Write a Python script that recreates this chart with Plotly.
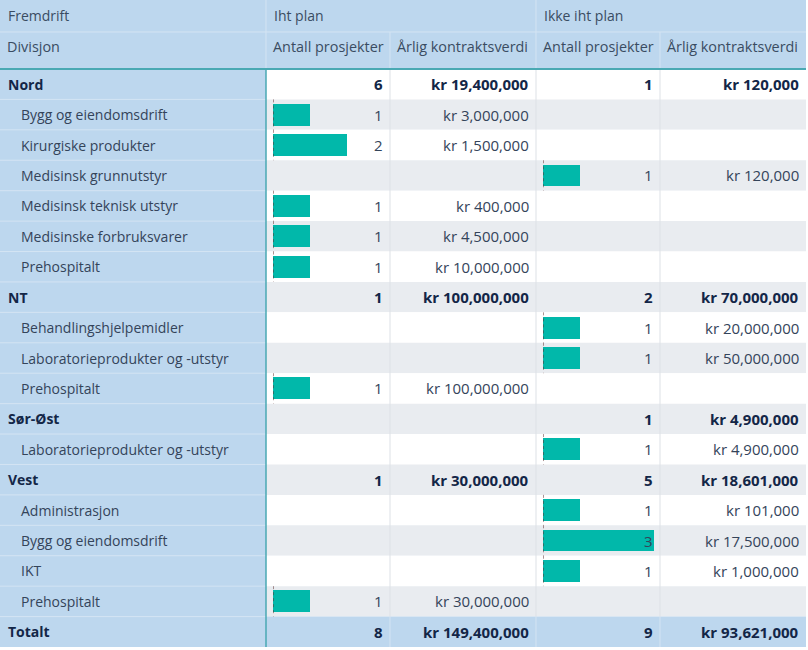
import plotly.graph_objects as go

# ---------------- data ----------------
row_labels = ["Nord", "Bygg og eiendomsdrift", "Kirurgiske produkter", "Medisinsk grunnutstyr",
              "Medisinsk teknisk utstyr", "Medisinske forbruksvarer", "Prehospitalt",
              "NT", "Behandlingshjelpemidler", "Laboratorieprodukter og -utstyr", "Prehospitalt",
              "Sør-Øst", "Laboratorieprodukter og -utstyr",
              "Vest", "Administrasjon", "Bygg og eiendomsdrift", "IKT", "Prehospitalt",
              "Totalt"]
row_level = ["group", "child", "child", "child", "child", "child", "child",
             "group", "child", "child", "child",
             "group", "child",
             "group", "child", "child", "child", "child",
             "total"]
iht_antall = [6, 1, 2, None, 1, 1, 1,
              1, None, None, 1,
              None, None,
              1, None, None, None, 1,
              8]
iht_verdi = [19400000, 3000000, 1500000, None, 400000, 4500000, 10000000,
             100000000, None, None, 100000000,
             None, None,
             30000000, None, None, None, 30000000,
             149400000]
ikke_antall = [1, None, None, 1, None, None, None,
               2, 1, 1, None,
               1, 1,
               5, 1, 3, 1, None,
               9]
ikke_verdi = [120000, None, None, 120000, None, None, None,
              70000000, 20000000, 50000000, None,
              4900000, 4900000,
              18601000, 101000, 17500000, 1000000, None,
              93621000]
top_header = ["Fremdrift", "Iht plan", "Ikke iht plan"]
sub_header = ["Divisjon", "Antall prosjekter", "Årlig kontraktsverdi",
              "Antall prosjekter", "Årlig kontraktsverdi"]

# ---------------- styling ----------------
W, H = 808, 650
COLS = [0, 266, 390, 536, 660, 806]
ROW_TOP, ROW_BOT = 69, 647
N = len(row_labels)
BLUE = "#bdd7ee"
GRAY = "#e9ecf0"
TEAL_LINE = "#4aa9b3"
BAR = "#01b8aa"
SEP_BLUE = "#d4e4f3"
SEP_GRAY = "#dde1e6"
FONT = "Open Sans"
FS = 14
FS_NUM = 15
C_BOLD = "#132647"
C_NORM = "#34445a"
C_HEAD = "#3a4c62"


def px(x):
    return x / W


def py(y):
    return 1 - y / H


def fmt_kr(v):
    return "" if v is None else "kr {:,}".format(v)


def fmt_n(v):
    return "" if v is None else str(v)


fig = go.Figure()

# data bars (through library axes)
for xa, vals in (("x2", iht_antall), ("x3", ikke_antall)):
    ys, xs = [], []
    for i, (lvl, v) in enumerate(zip(row_level, vals)):
        if lvl == "child" and v is not None:
            ys.append(i)
            xs.append(v)
    fig.add_trace(go.Bar(x=xs, y=ys, orientation="h", xaxis=xa, yaxis="y2",
                         marker=dict(color=BAR, line=dict(width=0)), width=0.72,
                         hoverinfo="skip", showlegend=False))

shapes = []
# backgrounds
shapes.append(dict(type="rect", xref="paper", yref="paper", x0=px(0), x1=px(COLS[1]),
                   y0=py(ROW_BOT), y1=py(0), fillcolor=BLUE, line_width=0, layer="below"))
shapes.append(dict(type="rect", xref="paper", yref="paper", x0=px(COLS[1]), x1=px(COLS[-1]),
                   y0=py(ROW_TOP), y1=py(0), fillcolor=BLUE, line_width=0, layer="below"))
for i, lvl in enumerate(row_level):
    if lvl == "total":
        shapes.append(dict(type="rect", xref="paper", yref="y2", x0=px(0), x1=px(COLS[-1]),
                           y0=i - 0.5, y1=i + 0.5, fillcolor=BLUE, line_width=0, layer="below"))
    else:
        shapes.append(dict(type="rect", xref="paper", yref="y2", x0=px(COLS[1]), x1=px(COLS[-1]),
                           y0=i - 0.5, y1=i + 0.5, fillcolor="#ffffff" if i % 2 == 0 else GRAY,
                           line_width=0, layer="below"))
# separators
for i in range(N - 1):
    shapes.append(dict(type="line", xref="paper", yref="y2", x0=px(0), x1=px(COLS[1]),
                       y0=i + 0.5, y1=i + 0.5, line=dict(color=SEP_BLUE, width=1), layer="below"))
for c in COLS[2:-1]:
    shapes.append(dict(type="line", xref="paper", yref="y2", x0=px(c), x1=px(c),
                       y0=-0.5, y1=N - 1.5, line=dict(color=SEP_GRAY, width=1), layer="below"))
    shapes.append(dict(type="line", xref="paper", yref="y2", x0=px(c), x1=px(c),
                       y0=N - 1.5, y1=N - 0.5, line=dict(color=SEP_BLUE, width=1), layer="below"))
# header separators
shapes.append(dict(type="line", xref="paper", yref="paper", x0=px(0), x1=px(COLS[-1]),
                   y0=py(32), y1=py(32), line=dict(color=SEP_BLUE, width=1)))
for c in (COLS[1], COLS[3]):
    shapes.append(dict(type="line", xref="paper", yref="paper", x0=px(c), x1=px(c),
                       y0=py(ROW_TOP), y1=py(0), line=dict(color=SEP_BLUE, width=1)))
for c in (COLS[2], COLS[4]):
    shapes.append(dict(type="line", xref="paper", yref="paper", x0=px(c), x1=px(c),
                       y0=py(ROW_TOP), y1=py(32), line=dict(color=SEP_BLUE, width=1)))
# teal lines
shapes.append(dict(type="line", xref="paper", yref="paper", x0=px(0), x1=px(COLS[-1]),
                   y0=py(ROW_TOP), y1=py(ROW_TOP), line=dict(color=TEAL_LINE, width=2)))
shapes.append(dict(type="line", xref="paper", yref="paper", x0=px(COLS[1]), x1=px(COLS[1]),
                   y0=py(ROW_BOT), y1=py(ROW_TOP), line=dict(color=TEAL_LINE, width=1.5)))
# dotted zero-lines of data bars
for xa, vals in (("x2", iht_antall), ("x3", ikke_antall)):
    for i, (lvl, v) in enumerate(zip(row_level, vals)):
        if lvl == "child" and v is not None:
            shapes.append(dict(type="line", xref=xa, yref="y2", x0=0, x1=0, y0=i - 0.5, y1=i + 0.5,
                               line=dict(color="#5a2a2a", width=1, dash="dot")))

ann = []


def text(x, y, s, yref="paper", anchor="left", bold=False, color=C_NORM, size=FS):
    ann.append(dict(x=x, y=y, xref="paper", yref=yref, text=("<b>%s</b>" % s) if bold else s,
                    showarrow=False, xanchor=anchor, yanchor="middle",
                    font=dict(family=FONT, size=size, color=color)))


# headers
for s, c in zip(top_header, (COLS[0], COLS[1], COLS[3])):
    text(px(c + 6), py(16), s, color=C_HEAD)
for s, c in zip(sub_header, COLS[:-1]):
    text(px(c + 5), py(47), s, color=C_HEAD, size=14.4)

# rows
for i, lbl in enumerate(row_labels):
    lvl = row_level[i]
    bold = lvl != "child"
    col = C_BOLD if bold else C_NORM
    text(px(6 if bold else 19), i, lbl, yref="y2", bold=bold, color=col)
    cells = [fmt_n(iht_antall[i]), fmt_kr(iht_verdi[i]), fmt_n(ikke_antall[i]), fmt_kr(ikke_verdi[i])]
    for k, s in enumerate(cells):
        if s:
            text(px(COLS[k + 2] - 5), i, s, yref="y2", anchor="right", bold=bold, color=col,
                 size=FS_NUM)

bar_unit = 37
fig.update_layout(
    width=W, height=H, autosize=False,
    margin=dict(l=0, r=0, t=0, b=0),
    paper_bgcolor="#ffffff", plot_bgcolor="rgba(0,0,0,0)",
    shapes=shapes, annotations=ann, barmode="overlay", bargap=0,
    xaxis=dict(visible=False, domain=[0, 1], range=[0, 1]),
    yaxis=dict(visible=False, domain=[0, 1], range=[0, 1]),
    xaxis2=dict(visible=False, domain=[px(273), px(273 + 3 * bar_unit)], range=[0, 3],
                anchor="y2", fixedrange=True),
    xaxis3=dict(visible=False, domain=[px(543), px(543 + 3 * bar_unit)], range=[0, 3],
                anchor="y2", fixedrange=True),
    yaxis2=dict(visible=False, domain=[py(ROW_BOT), py(ROW_TOP)], range=[N - 0.5, -0.5],
                anchor="x2", fixedrange=True),
)
fig.write_html("out.html", config={"displayModeBar": False},
               post_script="document.body.style.margin='0';")
